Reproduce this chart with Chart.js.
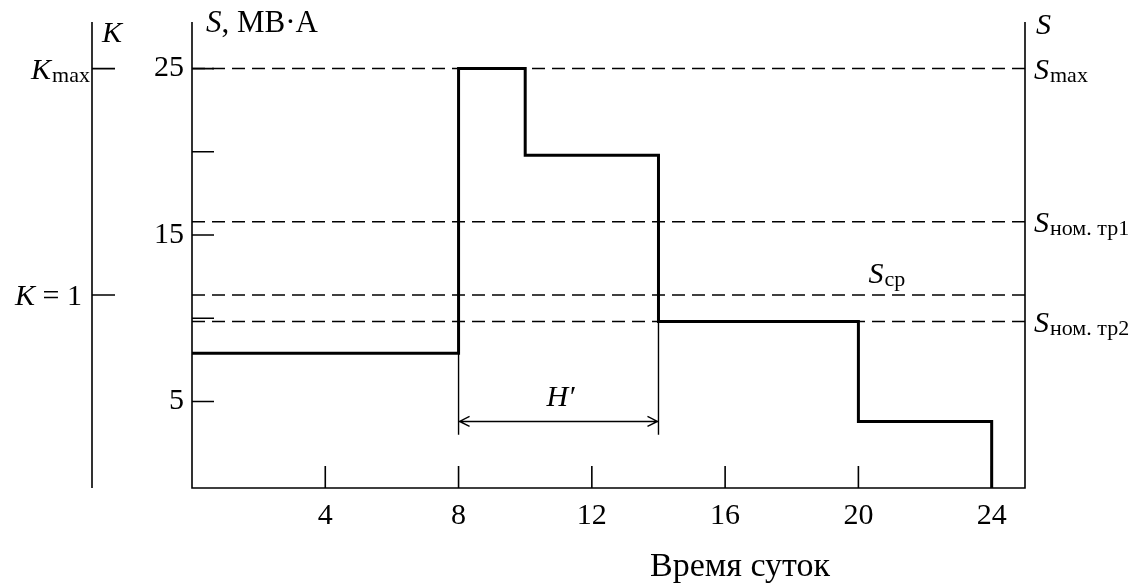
<!DOCTYPE html>
<html>
<head>
<meta charset="utf-8">
<script src="https://cdn.jsdelivr.net/npm/chart.js@4.4.1/dist/chart.umd.min.js"></script>
<style>
  html, body { margin: 0; padding: 0; background: #fff; }
  #wrap { width: 1136px; height: 583px; }
</style>
</head>
<body>
<div id="wrap"><canvas id="loadChart"></canvas></div>
<script>
// суточный график нагрузки (ступенчатый)
const hours = [0, 8, 10, 14, 20, 24];
const loadMVA = [7.9, 25, 19.8, 9.8, 3.8, -0.2]; // последняя точка - спуск до оси

const sTicks = [5, 10, 15, 20, 25];
const sTickLabels = ['5', '', '15', '', '25'];
const hourTicks = [4, 8, 12, 16, 20, 24];

// штриховые уровни мощности
const refSubs = ['max', 'ном. тр1', 'ср', 'ном. тр2'];
const refValues = [25, 15.8, 11.4, 9.8];

// ось коэффициента K
const kValues = [25, 11.4];
const kSubs = ['max', ' = 1'];

// отрезок H'
const hFrom = 8, hTo = 14, hLevel = 3.8, hExtBottom = 3.0;

const serif = "'Liberation Serif', 'Times New Roman', serif";

function subLabel(ctx, main, sub, x, yb, align, subOffset, subSize) {
  ctx.font = 'italic 30px ' + serif;
  const w1 = ctx.measureText(main).width;
  ctx.font = subSize + 'px ' + serif;
  const w2 = ctx.measureText(sub).width;
  let x0 = x;
  if (align == 'right') x0 = x - w1 - w2;
  ctx.textAlign = 'left';
  ctx.font = 'italic 30px ' + serif;
  ctx.fillText(main, x0, yb);
  ctx.font = subSize + 'px ' + serif;
  ctx.fillText(sub, x0 + w1 + 1, yb + subOffset);
}

const axesPlugin = {
  id: 'axesPlugin',
  afterDatasetsDraw(chart) {
    const ctx = chart.ctx;
    const a = chart.chartArea;
    const x = chart.scales.x;
    const y = chart.scales.y;
    const kx = a.left - 100;

    ctx.save();
    ctx.strokeStyle = '#000';
    ctx.fillStyle = '#000';
    ctx.lineWidth = 1.6;
    ctx.lineCap = 'butt';

    // рамка осей
    ctx.beginPath();
    ctx.moveTo(a.left, a.top);
    ctx.lineTo(a.left, a.bottom);
    ctx.lineTo(a.right, a.bottom);
    ctx.lineTo(a.right, a.top);
    ctx.moveTo(kx, a.top);
    ctx.lineTo(kx, a.bottom);
    ctx.stroke();

    // засечки оси S
    ctx.beginPath();
    sTicks.forEach(v => {
      const py = y.getPixelForValue(v);
      ctx.moveTo(a.left, py);
      ctx.lineTo(a.left + 22, py);
    });
    // засечки оси K
    kValues.forEach(v => {
      const py = y.getPixelForValue(v);
      ctx.moveTo(kx, py);
      ctx.lineTo(kx + 23, py);
    });
    // засечки оси времени
    hourTicks.forEach(h => {
      const px = x.getPixelForValue(h);
      ctx.moveTo(px, a.bottom);
      ctx.lineTo(px, a.bottom - 22);
    });
    ctx.stroke();

    // подписи
    ctx.font = '30px ' + serif;
    ctx.textBaseline = 'middle';
    ctx.textAlign = 'right';
    sTicks.forEach((v, i) => {
      ctx.fillText(sTickLabels[i], a.left - 8, y.getPixelForValue(v));
    });
    ctx.textAlign = 'center';
    hourTicks.forEach(h => {
      ctx.fillText(String(h), x.getPixelForValue(h), a.bottom + 28);
    });
    ctx.font = '34px ' + serif;
    ctx.fillText('Время суток', 740, 567);

    ctx.textBaseline = 'alphabetic';
    // K
    ctx.textAlign = 'left';
    ctx.font = 'italic 30px ' + serif;
    ctx.fillText('K', kx + 10, a.top + 20);
    subLabel(ctx, 'K', 'max', kx - 3, y.getPixelForValue(kValues[0]) + 10, 'right', 3, 22);
    ctx.font = 'italic 30px ' + serif;
    const kw = ctx.measureText('K').width;
    ctx.font = '30px ' + serif;
    const ew = ctx.measureText(kSubs[1]).width;
    ctx.textAlign = 'left';
    ctx.font = 'italic 30px ' + serif;
    ctx.fillText('K', kx - 10 - kw - ew, y.getPixelForValue(kValues[1]) + 10);
    ctx.font = '30px ' + serif;
    ctx.fillText(kSubs[1], kx - 10 - ew, y.getPixelForValue(kValues[1]) + 10);

    // S, МВ·А
    ctx.font = 'italic 31px ' + serif;
    ctx.fillText('S', a.left + 14, a.top + 10);
    const sw = ctx.measureText('S').width;
    ctx.font = '31px ' + serif;
    ctx.fillText(', МВ·А', a.left + 14 + sw, a.top + 10);
    ctx.font = 'italic 30px ' + serif;
    ctx.fillText('S', a.right + 11, a.top + 12);

    // уровни
    refValues.forEach((v, i) => {
      const py = y.getPixelForValue(v);
      if (refSubs[i] == 'ср') {
        subLabel(ctx, 'S', refSubs[i], x.getPixelForValue(20.3), py - 12, 'left', 3, 22);
      } else {
        subLabel(ctx, 'S', refSubs[i], a.right + 9, py + 10, 'left', 3, 22);
      }
    });

    // выносные линии и стрелка H'
    const x1 = x.getPixelForValue(hFrom);
    const x2 = x.getPixelForValue(hTo);
    const ay = y.getPixelForValue(hLevel);
    ctx.lineWidth = 1.4;
    ctx.beginPath();
    ctx.moveTo(x1, y.getPixelForValue(loadMVA[0]));
    ctx.lineTo(x1, y.getPixelForValue(hExtBottom));
    ctx.moveTo(x2, y.getPixelForValue(loadMVA[3]));
    ctx.lineTo(x2, y.getPixelForValue(hExtBottom));
    ctx.moveTo(x1, ay);
    ctx.lineTo(x2, ay);
    ctx.moveTo(x1 + 11, ay - 5);
    ctx.lineTo(x1 + 1, ay);
    ctx.lineTo(x1 + 11, ay + 5);
    ctx.moveTo(x2 - 11, ay - 5);
    ctx.lineTo(x2 - 1, ay);
    ctx.lineTo(x2 - 11, ay + 5);
    ctx.stroke();
    ctx.font = 'italic 30px ' + serif;
    ctx.textAlign = 'center';
    ctx.fillText('H′', (x1 + x2) / 2 + 2, ay - 15);

    ctx.restore();
  }
};

const datasets = [
  {
    label: 'S',
    data: hours.map((h, i) => ({ x: h, y: loadMVA[i] })),
    stepped: 'before',
    borderColor: '#000',
    borderWidth: 3,
    borderJoinStyle: 'miter',
    pointRadius: 0,
    fill: false,
    order: 0
  }
];

refValues.forEach((v, i) => {
  datasets.push({
    label: refSubs[i],
    data: [{ x: 0, y: v }, { x: 25, y: v }],
    borderColor: '#000',
    borderWidth: 1.5,
    borderDash: [13, 7],
    pointRadius: 0,
    fill: false,
    order: 1
  });
});

new Chart(document.getElementById('loadChart'), {
  type: 'line',
  data: { datasets: datasets },
  options: {
    responsive: true,
    maintainAspectRatio: false,
    animation: false,
    layout: { padding: { left: 192, right: 111, top: 22, bottom: 95 } },
    plugins: { legend: { display: false }, tooltip: { enabled: false } },
    scales: {
      x: { type: 'linear', min: 0, max: 25, display: false },
      y: { min: -0.2, max: 27.8, display: false }
    }
  },
  plugins: [axesPlugin]
});
</script>
</body>
</html>
